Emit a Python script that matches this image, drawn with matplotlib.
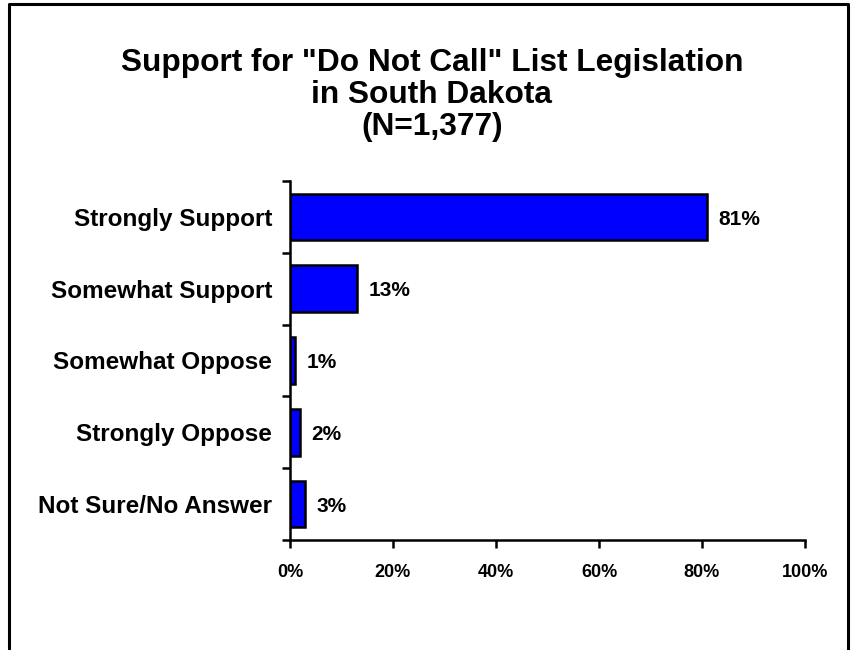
import matplotlib
matplotlib.use("Agg")
from matplotlib import pyplot as plt
from matplotlib.lines import Line2D

categories = ["Strongly Support", "Somewhat Support", "Somewhat Oppose",
              "Strongly Oppose", "Not Sure/No Answer"]
values = [81, 13, 1, 2, 3]
xticks = [0, 20, 40, 60, 80, 100]
xtick_labels = ["0%", "20%", "40%", "60%", "80%", "100%"]
title = 'Support for "Do Not Call" List Legislation\nin South Dakota\n(N=1,377)'

plt.rcParams['font.family'] = ['Liberation Sans', 'DejaVu Sans']
plt.rcParams['font.weight'] = 'bold'

fig = plt.figure(figsize=(8.54, 6.5), dpi=100)
ax = fig.add_axes([290/854, 1 - 540/650, 515/854, 359/650])

ypos = list(range(len(categories)))
ax.barh(ypos, values, height=0.65, color="#0000ff", edgecolor="black", linewidth=1.8)
for y, v in zip(ypos, values):
    ax.text(v + 2.2, y + 0.03, f"{v}%", va="center", ha="left", fontsize=15, fontweight="bold")

ax.set_xlim(0, 100)
ax.set_ylim(len(categories) - 0.5, -0.5)
ax.set_xticks(xticks)
ax.set_xticklabels(xtick_labels, fontsize=13, fontweight="bold")
ax.set_yticks(ypos)
ax.set_yticklabels(categories, fontsize=17.5, fontweight="bold")
ax.tick_params(axis="y", length=0, pad=13)
ax.set_yticks([i - 0.5 for i in range(len(categories) + 1)], minor=True)
ax.tick_params(axis="y", which="minor", length=6, width=1.8)
ax.tick_params(axis="x", length=6, width=1.8, pad=11)
ax.spines["top"].set_visible(False)
ax.spines["right"].set_visible(False)
ax.spines["left"].set_linewidth(1.8)
ax.spines["bottom"].set_linewidth(1.8)

fig.text(432/854, 1 - 95/650, title, ha="center", va="center",
         fontsize=22.8, fontweight="bold", linespacing=1.1)

# border (no bottom edge)
bx0, bx1, by1 = 9/854, 848/854, 1 - 4/650
fig.add_artist(Line2D([bx0, bx0, bx1, bx1], [0, by1, by1, 0],
                      transform=fig.transFigure, color="black", linewidth=2.2))

fig.savefig("out.png", dpi=100)
